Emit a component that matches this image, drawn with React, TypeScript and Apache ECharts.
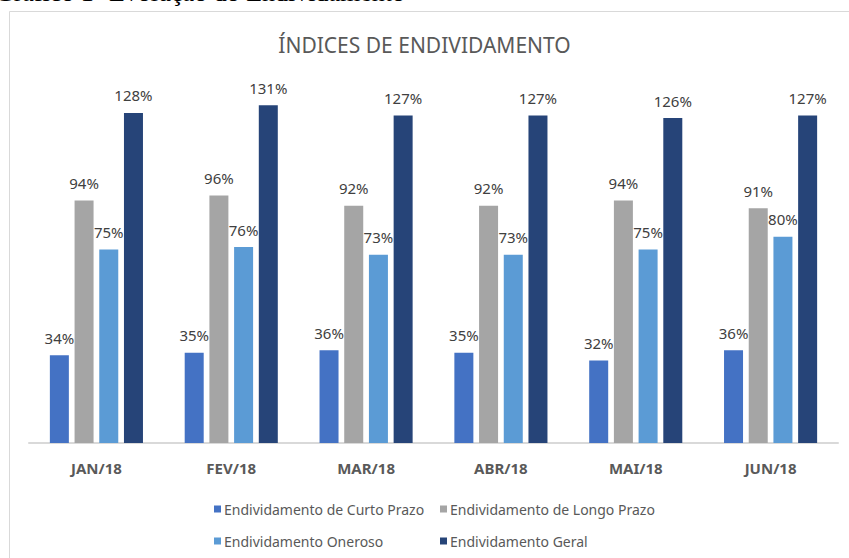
import React, { useEffect, useRef } from "react";
import * as echarts from "echarts";

const categories = ["JAN/18", "FEV/18", "MAR/18", "ABR/18", "MAI/18", "JUN/18"];
const curtoPrazo = [34, 35, 36, 35, 32, 36];
const longoPrazo = [94, 96, 92, 92, 94, 91];
const oneroso = [75, 76, 73, 73, 75, 80];
const geral = [128, 131, 127, 127, 126, 127];
const seriesNames = [
  "Endividamento de Curto Prazo",
  "Endividamento de Longo Prazo",
  "Endividamento Oneroso",
  "Endividamento Geral",
];
const colors = ["#4472C4", "#A5A5A5", "#5B9BD5", "#264478"];

const FONT = "'Noto Sans', sans-serif";

export default function App() {
  const ref = useRef<HTMLDivElement>(null);
  useEffect(() => {
    document.body.style.margin = "0";
    const chart = echarts.init(ref.current!, null, { renderer: "svg" });
    const datasets = [curtoPrazo, longoPrazo, oneroso, geral];
    const legendBase = {
      orient: "vertical",
      top: 501,
      height: 56,
      padding: 0,
      itemWidth: 7,
      itemHeight: 7,
      itemGap: 16,
      icon: "rect",
      textStyle: { fontFamily: FONT, fontSize: 14, color: "#595959", lineHeight: 16, padding: [0, 0, 0, -2] },
    };
    chart.setOption({
      animation: false,
      backgroundColor: "#ffffff",
      title: {
        text: "ÍNDICES DE ENDIVIDAMENTO",
        left: "center",
        top: 29,
        textStyle: { fontFamily: FONT, fontSize: 21, fontWeight: "normal", color: "#595959" },
      },
      graphic: [
        {
          type: "text",
          right: 849 - 405,
          top: -21,
          style: {
            text: "Gráfico 1- Evolução do Endividamento",
            font: "26px 'Liberation Serif', serif",
            fill: "#000000",
          },
        },
        {
          type: "rect",
          shape: { x: 9.5, y: 11.5, width: 900, height: 700 },
          style: { fill: "none", stroke: "#d9d9d9", lineWidth: 1 },
          silent: true,
          z: -1,
        },
      ],
      legend: [
        { ...legendBase, left: 214, data: [seriesNames[0], seriesNames[2]] },
        { ...legendBase, left: 440, data: [seriesNames[1], seriesNames[3]] },
      ],
      grid: { left: 29, right: 11, top: 82, bottom: 115 },
      xAxis: {
        type: "category",
        data: categories,
        axisLine: { lineStyle: { color: "#d9d9d9", width: 2 } },
        axisTick: { show: false },
        axisLabel: {
          fontFamily: FONT,
          fontSize: 15,
          fontWeight: "bold",
          color: "#595959",
          margin: 17,
        },
      },
      yAxis: {
        type: "value",
        min: 0,
        max: 140,
        show: false,
        splitLine: { show: false },
      },
      series: datasets.map((d, i) => ({
        name: seriesNames[i],
        type: "bar",
        data: d,
        barWidth: 19,
        barGap: "30%",
        itemStyle: { color: colors[i] },
        label: {
          show: true,
          position: "top",
          distance: 10,
          formatter: "{c}%",
          fontFamily: FONT,
          fontSize: 15,
          color: "#404040",
        },
      })),
    });
    return () => chart.dispose();
  }, []);
  return (
    <div
      ref={ref}
      style={{ position: "fixed", left: 0, top: 0, width: 849, height: 558 }}
    />
  );
}
